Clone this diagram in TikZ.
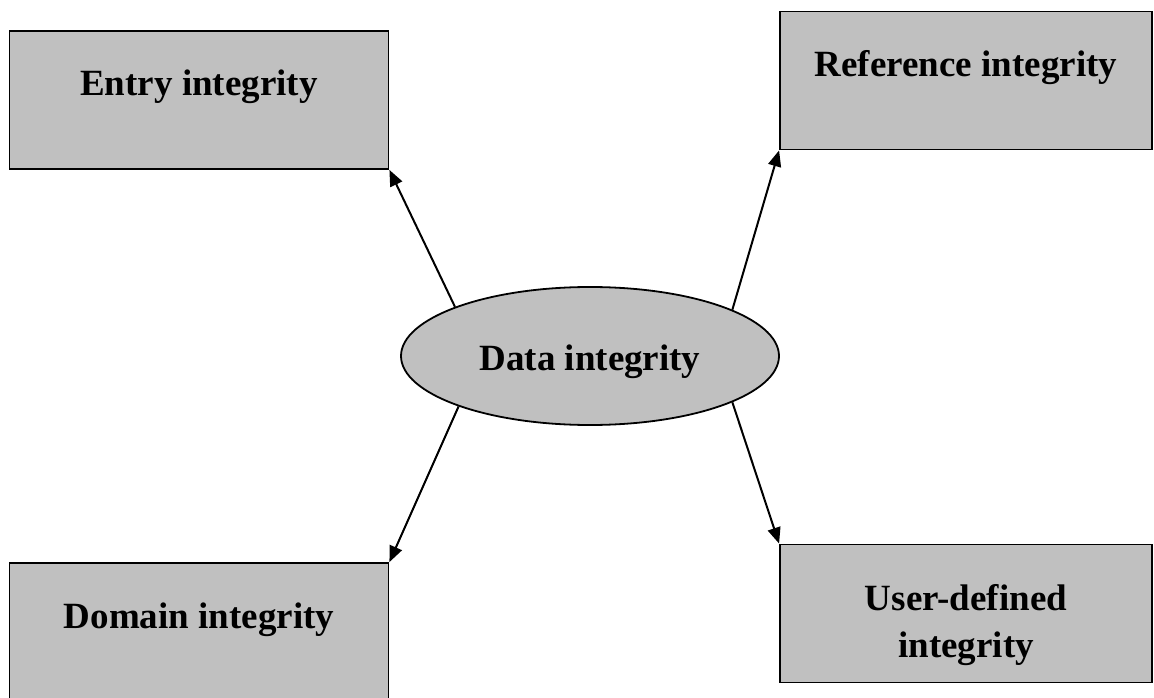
\documentclass[tikz,border=0pt]{standalone}
\usepackage{fontspec}
\setmainfont{Liberation Serif}
\usepackage{xcolor}
\usepackage{tikz}
\usetikzlibrary{shapes.geometric, arrows.meta, positioning}
\definecolor{panelgray}{RGB}{192,192,192}

\begin{document}
\begin{tikzpicture}[x=1pt, y=-1pt,
    boxtext/.style={font=\fontsize{37}{47}\selectfont\bfseries, align=center},
    intbox/.style={boxtext, rectangle, draw=black, line width=1.8pt, fill=panelgray,
      inner sep=0pt, text height=65pt, text depth=73pt},
    hub/.style={boxtext, ellipse, draw=black, line width=1.8pt, fill=panelgray,
      inner sep=0pt, minimum width=378pt, minimum height=138pt,
      text height=30pt, text depth=2pt},
    link/.style={line width=2pt, -{Triangle[length=16pt, width=13pt]}}]

    % Page frame (1154 x 698)
    \useasboundingbox (0,0) rectangle (1154,698);

    % Central ellipse
    \node[hub] (data) at (590,356) {Data integrity};

    % Four integrity boxes (text sits near the top of each box)
    \node[intbox, minimum width=379pt] (entry)  at (199,100)   {Entry integrity};
    \node[intbox, minimum width=372pt] (ref)    at (966,80.5)  {Reference integrity};
    \node[intbox, minimum width=379pt] (domain) at (199,632)   {Domain integrity};
    % two lines: baseline is the last one
    \node[intbox, minimum width=372pt, text height=113pt, text depth=25pt]
      (user) at (966,613.5) {User-defined\\integrity};

    % Arrows from ellipse to box corners
    \foreach \ang/\target/\corner in {160/entry/south east, 18/ref/south west,
                                      201/domain/north east, 342/user/north west} {
      \draw[link] (data.\ang) -- (\target.\corner);
    }
\end{tikzpicture}
\end{document}
